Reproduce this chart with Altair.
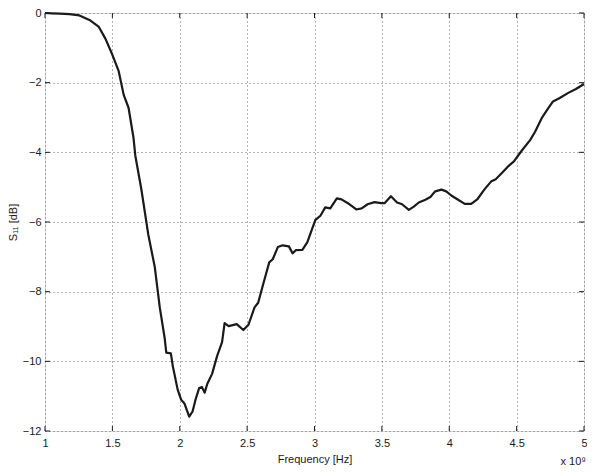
import altair as alt
import pandas as pd

# Frequency in units of 1e9 Hz, S11 in dB
freq = [1.00, 1.05, 1.11, 1.18, 1.255, 1.33, 1.40, 1.45, 1.50, 1.547, 1.584, 1.62,
        1.657, 1.67, 1.715, 1.766, 1.815, 1.852, 1.888, 1.90, 1.934, 1.949, 1.985,
        2.01, 2.036, 2.07, 2.095, 2.117, 2.144, 2.165, 2.185, 2.204, 2.24, 2.277,
        2.314, 2.333, 2.363, 2.423, 2.472, 2.51, 2.555, 2.582, 2.618, 2.664, 2.69,
        2.728, 2.764, 2.81, 2.837, 2.861, 2.91, 2.947, 2.983, 3.007, 3.044, 3.08,
        3.117, 3.166, 3.20, 3.248, 3.31, 3.35, 3.394, 3.445, 3.494, 3.52, 3.567,
        3.613, 3.65, 3.70, 3.737, 3.774, 3.823, 3.86, 3.896, 3.942, 3.978, 4.015,
        4.066, 4.115, 4.163, 4.21, 4.26, 4.31, 4.345, 4.394, 4.443, 4.48, 4.54,
        4.60, 4.637, 4.686, 4.735, 4.77, 4.82, 4.88, 4.94, 5.0]
s11 = [0.0, -0.01, -0.02, -0.03, -0.07, -0.2, -0.4, -0.75, -1.2, -1.67, -2.35, -2.72,
       -3.59, -4.09, -5.06, -6.35, -7.30, -8.46, -9.33, -9.75, -9.77, -10.15, -10.82,
       -11.10, -11.22, -11.59, -11.44, -11.10, -10.77, -10.74, -10.90, -10.65, -10.36, -9.85,
       -9.45, -8.90, -8.99, -8.93, -9.10, -8.95, -8.45, -8.32, -7.80, -7.16, -7.07,
       -6.72, -6.67, -6.70, -6.90, -6.81, -6.80, -6.58, -6.19, -5.94, -5.82, -5.58,
       -5.61, -5.32, -5.35, -5.46, -5.64, -5.61, -5.49, -5.43, -5.46, -5.46, -5.26,
       -5.44, -5.49, -5.65, -5.56, -5.44, -5.36, -5.28, -5.12, -5.07, -5.12, -5.24,
       -5.36, -5.48, -5.48, -5.34, -5.07, -4.84, -4.77, -4.58, -4.38, -4.26, -3.94,
       -3.65, -3.41, -3.02, -2.73, -2.54, -2.44, -2.30, -2.18, -2.04]

x_ticks = [1, 1.5, 2, 2.5, 3, 3.5, 4, 4.5, 5]
y_ticks = [-12, -10, -8, -6, -4, -2, 0]
x_title = "Frequency [Hz]"
y_title = "S₁₁ [dB]"
exp_label = ["x 10⁹"]

W, H = 539, 418
FONT = "Liberation Sans"
INK = "#1a1a1a"

df = pd.DataFrame({"f": freq, "s": s11})
xt = pd.DataFrame({"f": x_ticks})
yt = pd.DataFrame({"s": y_ticks})
lab = pd.DataFrame({"t": exp_label})

xs = alt.Scale(domain=[1, 5], nice=False, zero=False)
ys = alt.Scale(domain=[-12, 0], nice=False, zero=False)

common_axis = dict(grid=True, gridDash=[1, 3], gridColor="#666", gridWidth=1,
                   ticks=False, domain=False, labelFont=FONT, labelFontSize=11,
                   labelColor=INK, titleFont=FONT, titleFontSize=11,
                   titleColor=INK, titleFontWeight="normal")
xaxis = alt.Axis(values=x_ticks, title=x_title, format="~g", labelPadding=6,
                 titlePadding=5, labelFlush=False, **common_axis)
yaxis = alt.Axis(values=y_ticks, title=y_title, format="d", labelPadding=4,
                 titlePadding=4, **common_axis)

X = alt.X("f:Q", scale=xs, axis=xaxis)
Y = alt.Y("s:Q", scale=ys, axis=yaxis)

line = alt.Chart(df).mark_line(color=INK, strokeWidth=2.2, strokeJoin="round").encode(x=X, y=Y)

tick_style = dict(color=INK, strokeWidth=1)
bt = alt.Chart(xt).mark_rule(**tick_style).encode(x=X, y=alt.value(H), y2=alt.value(H - 5))
tt = alt.Chart(xt).mark_rule(**tick_style).encode(x=X, y=alt.value(0), y2=alt.value(5))
lt = alt.Chart(yt).mark_rule(**tick_style).encode(y=Y, x=alt.value(0), x2=alt.value(5))
rt = alt.Chart(yt).mark_rule(**tick_style).encode(y=Y, x=alt.value(W), x2=alt.value(W - 5))

exp_text = alt.Chart(lab).mark_text(font=FONT, fontSize=11, color=INK, align="right",
                                    baseline="alphabetic").encode(
    text="t:N", x=alt.value(W + 2), y=alt.value(H + 34))

chart = alt.layer(line, bt, tt, lt, rt, exp_text).properties(
    width=W, height=H,
    autosize=alt.AutoSizeParams(type="none"),
    padding={"left": 37, "top": 5, "right": 3, "bottom": 37},
).configure_view(stroke=INK, strokeWidth=1).configure(background="white")

chart.save("out.html", embed_options={"renderer": "svg", "actions": False})
